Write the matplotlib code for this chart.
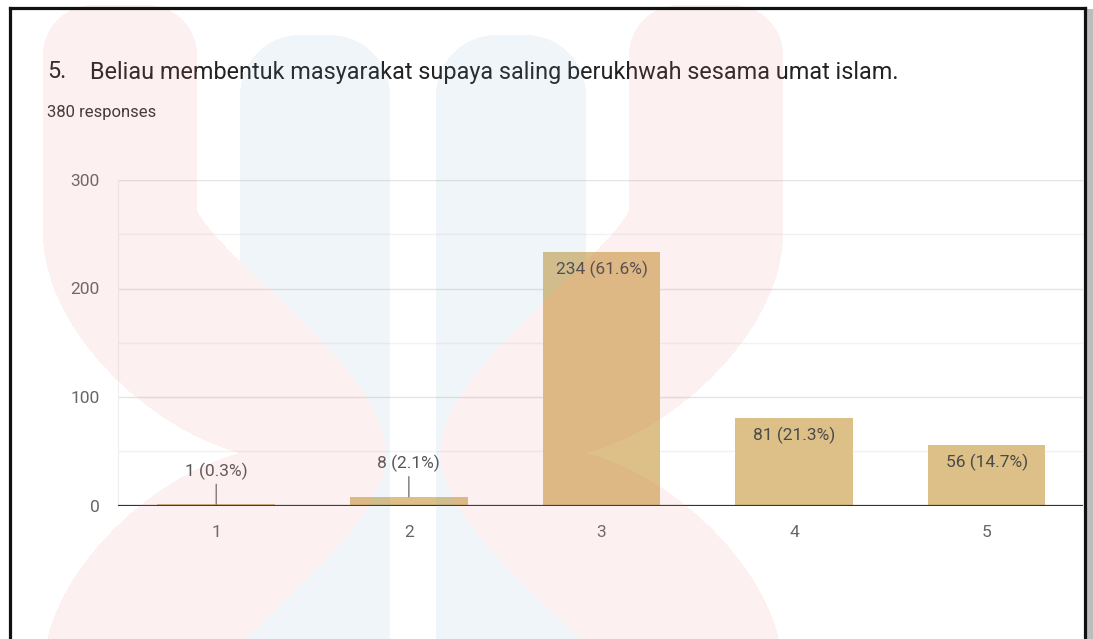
import numpy as np
import matplotlib
matplotlib.use("Agg")
import matplotlib.pyplot as plt
from matplotlib.path import Path
from matplotlib.lines import Line2D
from matplotlib.patches import Rectangle

# survey question 5 - likert 1..5
categories = ["1", "2", "3", "4", "5"]
counts = [1, 8, 234, 81, 56]
percents = [0.3, 2.1, 61.6, 21.3, 14.7]
title_num = "5."
title_text = "Beliau membentuk masyarakat supaya saling berukhwah sesama umat islam."
subtitle = "380 responses"
yticks = [0, 100, 200, 300]

W, H = 1093, 639
plt.rcParams["font.family"] = ["Roboto", "DejaVu Sans"]

fig = plt.figure(figsize=(W / 100, H / 100), dpi=100)
fig.patch.set_facecolor("white")

# plot area in pixels: x 118..1083, y(0)=505.5, y(300)=180
ax = fig.add_axes([118 / W, 1 - 505.5 / H, (1083 - 118) / W, (505.5 - 180) / H])
ax.set_facecolor("none")
x = np.arange(1, len(categories) + 1)
ax.bar(x, counts, width=0.61, color="#dcc087", zorder=2)
ax.set_xlim(0.49, 5.50)
ax.set_ylim(0, 300)
ax.set_xticks(x)
ax.set_xticklabels(categories)
ax.set_yticks(yticks)
ax.set_yticks([50, 150, 250], minor=True)
ax.grid(axis="y", which="major", color="#e4e4e4", lw=1.0, zorder=0)
ax.grid(axis="y", which="minor", color="#f2f2f2", lw=1.0, zorder=0)
ax.tick_params(which="both", length=0)
ax.tick_params(axis="y", pad=13, labelsize=12.5, labelcolor="#666666")
ax.tick_params(axis="x", pad=14, labelsize=12.5, labelcolor="#666666")
for s in ["top", "right", "bottom"]:
    ax.spines[s].set_visible(False)
ax.spines["left"].set_color("#eeeeee")
ax.axhline(0, color="#333333", lw=1.6, zorder=3)

for xi, c, p in zip(x, counts, percents):
    lab = f"{c} ({p}%)"
    if c < 20:
        # small bars: label above with a leader line
        ax.annotate("", xy=(xi, c), xytext=(0, 14.5), textcoords="offset points",
                    arrowprops=dict(arrowstyle="-", color="#777777", lw=1.0,
                                    shrinkA=0, shrinkB=0), zorder=4)
        ax.annotate(lab, xy=(xi, c), xytext=(0, 24), textcoords="offset points",
                    ha="center", va="center", fontsize=12.5, color="#555555", zorder=4)
    else:
        ax.annotate(lab, xy=(xi, c), xytext=(0, -13), textcoords="offset points",
                    ha="center", va="center", fontsize=12.5, color="#4a4a4a", zorder=4)

fig.text(47 / W, 1 - 72 / H, title_num, fontsize=16.8, color="#222222", va="center")
fig.text(90 / W, 1 - 72 / H, title_text, fontsize=16.8, color="#222222", va="center")
fig.text(47 / W, 1 - 112 / H, subtitle, fontsize=12, color="#333333", va="center")


# faint logo watermark in the background (pixel coords, y down)
def chevron(mx=lambda v: v):
    M, L, C, Z = Path.MOVETO, Path.LINETO, Path.CURVE4, Path.CLOSEPOLY
    pts = [((43, 55), M), ((43, 233), L),
           ((43, 330), C), ((150, 430), C), ((240, 453), C),
           ((150, 476), C), ((43, 576), C), ((43, 673), C),
           ((43, 760), L), ((197, 760), L), ((197, 696), L),
           ((220, 646), C), ((386, 536), C), ((386, 453), C),
           ((386, 370), C), ((220, 260), C), ((197, 210), C),
           ((197, 55), L),
           ((197, 27.4), C), ((174.6, 5), C), ((147, 5), C),
           ((93, 5), L),
           ((65.4, 5), C), ((43, 27.4), C), ((43, 55), C),
           ((43, 55), Z)]
    return Path([(mx(px), py) for (px, py), _ in pts], [c for _, c in pts])


def pillar(x0, x1, top=35, r=60, bottom=760):
    M, L, C, Z = Path.MOVETO, Path.LINETO, Path.CURVE4, Path.CLOSEPOLY
    k = r * 0.552
    verts = [(x0, bottom), (x0, top + r),
             (x0, top + r - k), (x0 + r - k, top), (x0 + r, top),
             (x1 - r, top),
             (x1 - r + k, top), (x1, top + r - k), (x1, top + r),
             (x1, bottom), (x0, bottom)]
    codes = [M, L, C, C, C, L, C, C, C, L, Z]
    return Path(verts, codes)


gx, gy = np.meshgrid(np.arange(W) + 0.5, np.arange(H) + 0.5)
pts = np.column_stack([gx.ravel(), gy.ravel()])
pink = chevron().contains_points(pts) | chevron(lambda v: 826 - v).contains_points(pts)
blue = pillar(240, 390).contains_points(pts) | pillar(436, 586).contains_points(pts)
overlay = np.zeros((H * W, 4))
overlay[blue & ~pink] = [110 / 255, 160 / 255, 195 / 255, 0.10]
overlay[pink] = [235 / 255, 120 / 255, 120 / 255, 0.11]
fig.figimage(overlay.reshape(H, W, 4), xo=0, yo=0, origin="upper", zorder=10)

# screenshot frame with a little shadow on the right
fig.add_artist(Rectangle((1087 / W, 0), 6 / W, 1 - 9 / H, transform=fig.transFigure,
                         color="#bdbdbd", lw=0, zorder=11))
for xs, ys in [([9.5, 9.5], [H, 7.5]), ([9.5, 1084.5], [7.5, 7.5]),
               ([1084.5, 1084.5], [7.5, H])]:
    fig.add_artist(Line2D([v / W for v in xs], [1 - v / H for v in ys],
                          transform=fig.transFigure, color="#111111", lw=2.3,
                          solid_capstyle="projecting", zorder=12))

fig.savefig("out.png", dpi=100)
